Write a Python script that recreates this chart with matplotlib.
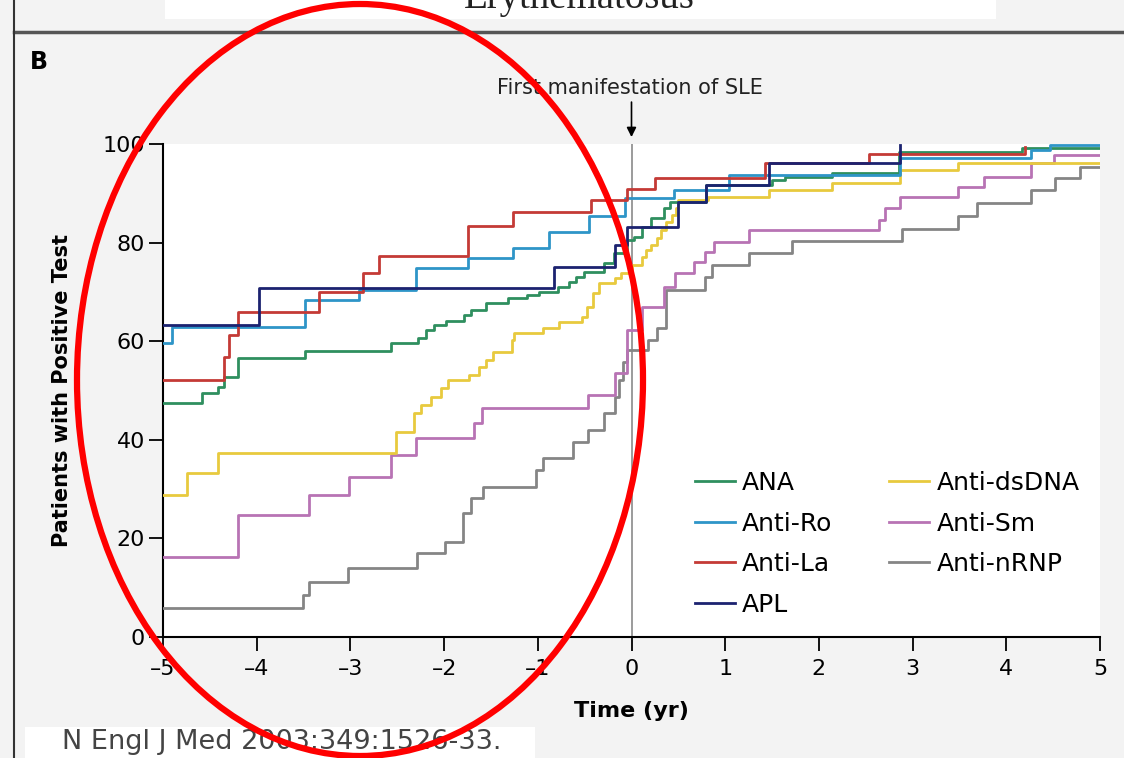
import matplotlib
matplotlib.use("Agg")
import matplotlib.pyplot as plt
from matplotlib.patches import Ellipse, Rectangle
from matplotlib.lines import Line2D

# --- data (time in years vs. % patients positive) ---
ana_t = [-5, -4.58, -4.41, -4.35, -4.20, -3.48, -2.57, -2.28, -2.19, -2.11, -1.98, -1.79,
         -1.71, -1.55, -1.32, -1.12, -0.99, -0.78, -0.67, -0.59, -0.51, -0.29, -0.19, -0.05,
         0.03, 0.11, 0.21, 0.35, 0.41, 0.80, 1.50, 1.64, 2.14, 2.86, 4.17, 5.0]
ana_p = [47.5, 49.5, 50.7, 52.7, 56.6, 58.0, 59.6, 60.6, 62.3, 63.3, 64.1, 65.3,
         66.3, 67.7, 68.8, 69.4, 70.0, 71.0, 72.0, 73.0, 74.0, 75.9, 77.9, 80.5,
         81.1, 83.2, 85.0, 87.0, 88.2, 91.7, 92.7, 93.3, 94.1, 98.4, 99.2, 99.2]

ro_t = [-5, -4.90, -3.48, -2.91, -2.30, -1.74, -1.26, -0.88, -0.45, -0.07, 0.45, 1.04,
        2.87, 4.26, 4.47, 5.0]
ro_p = [59.6, 62.9, 68.4, 70.4, 74.8, 76.9, 78.9, 82.2, 85.4, 89.0, 90.7, 93.7,
        97.2, 98.8, 99.8, 99.8]

la_t = [-5, -4.35, -4.30, -4.20, -3.34, -2.87, -2.70, -1.74, -1.26, -0.43, -0.05, 0.25,
        1.42, 2.53, 4.20]
la_p = [52.1, 56.8, 61.3, 65.9, 70.0, 73.8, 77.3, 83.4, 86.2, 88.6, 90.9, 93.1,
        96.1, 98.0, 99.4]

apl_t = [-5, -3.98, -0.83, -0.18, -0.05, 0.50, 0.80, 1.47, 2.87]
apl_p = [63.3, 70.8, 75.1, 79.5, 83.2, 88.2, 91.7, 96.1, 99.8]

dsdna_t = [-5, -4.74, -4.41, -2.51, -2.32, -2.25, -2.14, -2.03, -1.96, -1.73, -1.63, -1.55,
           -1.48, -1.28, -1.25, -0.94, -0.77, -0.53, -0.48, -0.41, -0.35, -0.18, -0.11, 0.0,
           0.11, 0.16, 0.21, 0.27, 0.32, 0.37, 0.43, 0.48, 0.50, 0.82, 1.47, 2.14, 2.87,
           3.48, 5.0]
dsdna_p = [28.8, 33.3, 37.3, 41.6, 45.4, 47.1, 48.7, 50.5, 52.1, 53.1, 54.8, 56.2,
           57.8, 60.2, 61.7, 62.7, 63.9, 64.9, 66.9, 69.8, 71.8, 72.8, 73.8, 75.5,
           77.1, 78.5, 79.5, 80.9, 82.6, 84.2, 85.6, 87.0, 88.6, 89.2, 90.7, 92.1, 94.7,
           96.1, 96.1]

sm_t = [-5, -4.20, -3.44, -3.02, -2.57, -2.30, -1.68, -1.60, -0.46, -0.18, -0.05, 0.11,
        0.35, 0.46, 0.67, 0.78, 0.88, 1.25, 2.64, 2.71, 2.87, 3.48, 3.76, 4.26, 4.51, 5.0]
sm_p = [16.2, 24.7, 28.8, 32.5, 36.9, 40.4, 43.4, 46.5, 49.1, 53.5, 62.3, 66.9,
        71.0, 73.8, 76.1, 78.1, 80.1, 82.6, 84.6, 87.0, 89.2, 91.3, 93.3, 96.1, 97.8, 97.8]

nrnp_t = [-5, -3.51, -3.44, -3.03, -2.29, -1.99, -1.80, -1.71, -1.58, -1.02, -0.94, -0.62,
          -0.46, -0.29, -0.18, -0.13, -0.09, -0.05, 0.18, 0.27, 0.37, 0.78, 0.86, 1.25,
          1.71, 2.89, 3.48, 3.69, 4.26, 4.52, 4.79, 5.0]
nrnp_p = [5.9, 8.5, 11.2, 14.0, 17.0, 19.3, 25.2, 28.2, 30.4, 33.9, 36.3, 39.6,
          42.0, 45.4, 48.7, 52.1, 55.8, 58.2, 60.2, 62.7, 70.4, 73.0, 75.5, 77.9,
          80.3, 82.8, 85.4, 88.0, 90.7, 93.1, 95.3, 95.3]

x_ticks = [-5, -4, -3, -2, -1, 0, 1, 2, 3, 4, 5]
x_tick_labels = ["\u20135", "\u20134", "\u20133", "\u20132", "\u20131", "0", "1", "2", "3", "4", "5"]
y_ticks = [0, 20, 40, 60, 80, 100]

series = [
    ("Anti-nRNP", nrnp_t, nrnp_p, "#858585"),
    ("Anti-Sm", sm_t, sm_p, "#b873b4"),
    ("Anti-dsDNA", dsdna_t, dsdna_p, "#e8ca3e"),
    ("ANA", ana_t, ana_p, "#2f8f5f"),
    ("Anti-Ro", ro_t, ro_p, "#2e95c8"),
    ("Anti-La", la_t, la_p, "#c43a36"),
    ("APL", apl_t, apl_p, "#1c2270"),
]
legend_order = ["ANA", "Anti-Ro", "Anti-La", "APL", "Anti-dsDNA", "Anti-Sm", "Anti-nRNP"]

W, H = 1124, 758
fig = plt.figure(figsize=(W / 100, H / 100), dpi=100, facecolor="#f3f3f3")

# page furniture
fig.add_artist(Rectangle((165 / W, 1 - 19 / H), (996 - 165) / W, 19 / H,
                         transform=fig.transFigure, facecolor="white", edgecolor="none"))
fig.text(579 / W, 1 - 8 / H, "Erythematosus", family="Liberation Serif", fontsize=28,
         ha="center", va="baseline", color="#222222")
fig.add_artist(Line2D([14 / W, 1], [1 - 32 / H, 1 - 32 / H], transform=fig.transFigure,
                      color="#555555", lw=2.5))
fig.add_artist(Line2D([14 / W, 14 / W], [0, 1], transform=fig.transFigure,
                      color="#333333", lw=1.5))
fig.text(30 / W, 1 - 62 / H, "B", fontsize=17, fontweight="bold", va="center")
fig.add_artist(Rectangle((25 / W, 0), (535 - 25) / W, 31 / H,
                         transform=fig.transFigure, facecolor="white", edgecolor="none"))
fig.text(62 / W, 1 - 742 / H, "N Engl J Med 2003;349:1526-33.", fontsize=19.5,
         color="#444444", va="center")

ax = fig.add_axes([163 / W, 1 - 637 / H, (1100 - 163) / W, (637 - 144) / H])
ax.set_facecolor("white")

ax.axvline(0, color="#8a8a8a", lw=1.2, zorder=1)

handles = {}
for name, t, p, c in series:
    ln, = ax.plot(t, p, drawstyle="steps-post", color=c, lw=2.0, label=name, zorder=3)
    handles[name] = ln

ax.set_xlim(-5, 5)
ax.set_ylim(0, 100)
ax.set_xticks(x_ticks)
ax.set_xticklabels(x_tick_labels)
ax.set_yticks(y_ticks)
for s in ["top", "right"]:
    ax.spines[s].set_visible(False)
for s in ["left", "bottom"]:
    ax.spines[s].set_linewidth(1.5)
ax.tick_params(direction="out", length=10, width=1.3, labelsize=16)
ax.tick_params(axis="x", pad=6)
ax.tick_params(axis="y", pad=3)

ax.set_xlabel("Time (yr)", fontsize=16, fontweight="bold", labelpad=16)
ax.set_ylabel("Patients with Positive Test", fontsize=15, fontweight="bold", labelpad=22)

leg = ax.legend([handles[n] for n in legend_order], legend_order, ncol=2, frameon=False,
                loc="upper left", bbox_to_anchor=(0.554, 0.362), borderpad=0,
                fontsize=18, handlelength=1.6, handletextpad=0.28,
                labelspacing=0.66, columnspacing=2.3)

# arrow marking first manifestation
ax.annotate("", xy=(0, 101.4), xytext=(0, 108.5), xycoords="data",
            arrowprops=dict(arrowstyle="-|>", color="black", lw=1.2, mutation_scale=14,
                            shrinkA=0, shrinkB=0), annotation_clip=False)
fig.text(630 / W, 1 - 88 / H, "First manifestation of SLE", fontsize=15,
         ha="center", va="center", color="#222222")

# red hand-drawn style ellipse
fig.add_artist(Ellipse((360 / W, 1 - 380 / H), 566 / W, 752 / H, transform=fig.transFigure,
                       fill=False, edgecolor="#ff0000", lw=4.5, zorder=10))

fig.savefig("out.png", dpi=100, facecolor=fig.get_facecolor())
